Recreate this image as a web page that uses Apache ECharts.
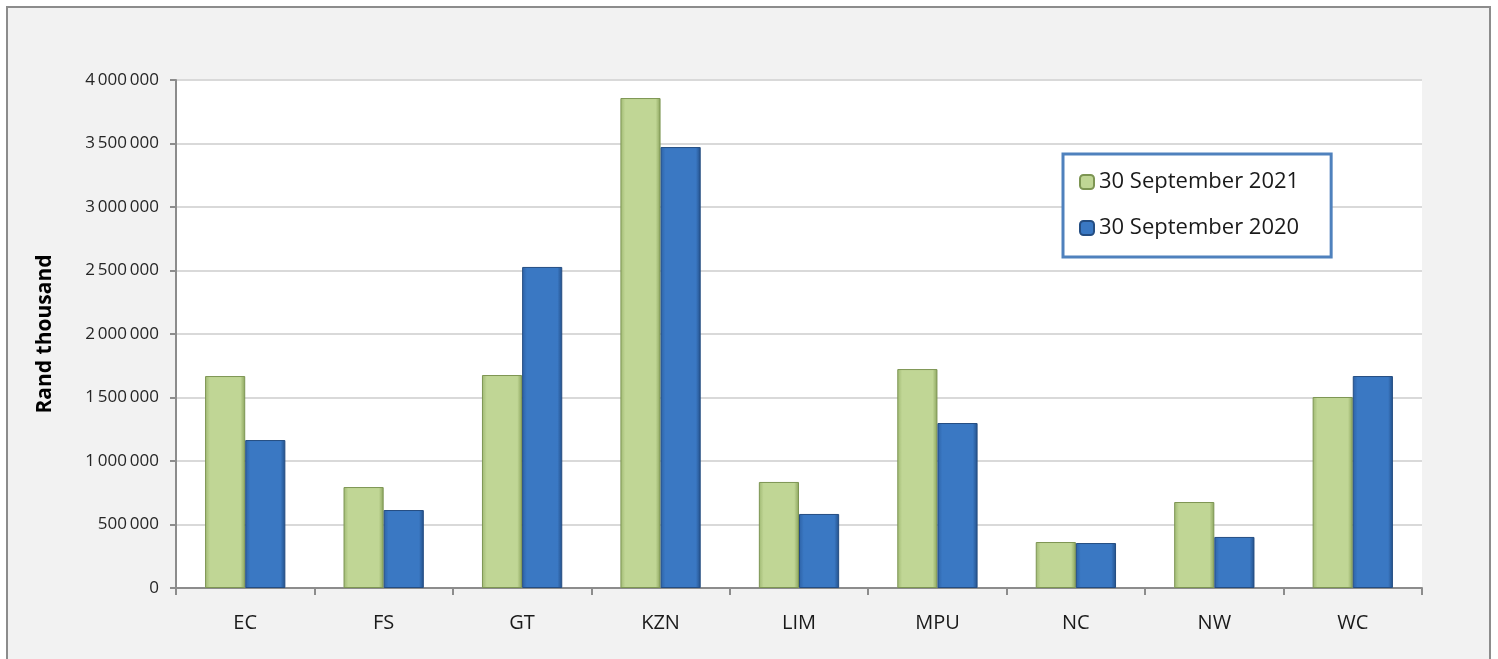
<!DOCTYPE html>
<html>
<head>
<meta charset="utf-8">
<script src="https://cdn.jsdelivr.net/npm/echarts@6/dist/echarts.min.js"></script>
<style>
  html, body { margin: 0; padding: 0; background: #fff; }
  #chart { width: 1498px; height: 659px; }
</style>
</head>
<body>
<div id="chart"></div>
<script>
// provinces
const provinces = ['EC', 'FS', 'GT', 'KZN', 'LIM', 'MPU', 'NC', 'NW', 'WC'];
// Rand thousand
const sep2021 = [1669000, 795000, 1677000, 3858000, 835000, 1724000, 362000, 677000, 1504000];
const sep2020 = [1165000, 614000, 2528000, 3472000, 583000, 1299000, 354000, 402000, 1669000];
const seriesNames = ['30 September 2021', '30 September 2020'];

const fmt = v => String(v).replace(/\B(?=(\d{3})+(?!\d))/g, '\u2009');

const bevel = (edge, mid, edge2) => new echarts.graphic.LinearGradient(0, 0, 1, 0, [
    { offset: 0, color: edge },
    { offset: 0.12, color: mid },
    { offset: 0.88, color: mid },
    { offset: 1, color: edge2 }
]);

const chart = echarts.init(document.getElementById('chart'), null, { renderer: 'canvas' });

chart.setOption({
    backgroundColor: '#ffffff',
    animation: false,
    textStyle: { fontFamily: 'Open Sans, Lato, sans-serif' },
    graphic: [{
        type: 'rect',
        z: -10,
        shape: { x: 7, y: 7, width: 1483, height: 670 },
        style: { fill: '#f2f2f2', stroke: '#8c8c8c', lineWidth: 2 }
    }],
    grid: {
        left: 176, right: 76, top: 80, bottom: 71,
        show: true, backgroundColor: '#ffffff', borderWidth: 0
    },
    legend: {
        orient: 'vertical',
        left: 1063, top: 154,
        padding: [17, 32, 18, 16],
        itemGap: 24,
        itemWidth: 14, itemHeight: 14,
        borderColor: '#4f81bd', borderWidth: 3,
        backgroundColor: '#ffffff',
        data: seriesNames,
        textStyle: { fontSize: 22, color: '#1a1a1a', fontFamily: 'Open Sans, sans-serif' }
    },
    xAxis: {
        type: 'category',
        data: provinces,
        axisLine: { lineStyle: { color: '#8c8c8c', width: 2 } },
        axisTick: { show: true, length: 7, lineStyle: { color: '#8c8c8c', width: 2 } },
        axisLabel: { fontSize: 20, color: '#1a1a1a', margin: 25 }
    },
    yAxis: {
        type: 'value',
        min: 0, max: 4000000, interval: 500000,
        name: 'Rand thousand',
        nameLocation: 'middle',
        nameRotate: 90,
        nameGap: 120,
        nameTextStyle: { fontSize: 21, fontWeight: 'bold', color: '#000' },
        axisLine: { show: true, lineStyle: { color: '#8c8c8c', width: 2 } },
        axisTick: { show: true, length: 6, lineStyle: { color: '#8c8c8c', width: 2 } },
        axisLabel: { fontSize: 17, color: '#262626', margin: 17, formatter: v => fmt(v) },
        splitLine: { lineStyle: { color: '#d9d9d9', width: 2 } }
    },
    series: [
        {
            name: seriesNames[0],
            type: 'bar',
            data: sep2021,
            barGap: '0%',
            barCategoryGap: '42%',
            itemStyle: {
                color: bevel('#9fb872', '#c0d695', '#8aa35c'),
                borderColor: '#7d9553', borderWidth: 1
            }
        },
        {
            name: seriesNames[1],
            type: 'bar',
            data: sep2020,
            itemStyle: {
                color: bevel('#2d62a6', '#3a78c3', '#234f88'),
                borderColor: '#244d82', borderWidth: 1
            }
        }
    ]
});
</script>
</body>
</html>
